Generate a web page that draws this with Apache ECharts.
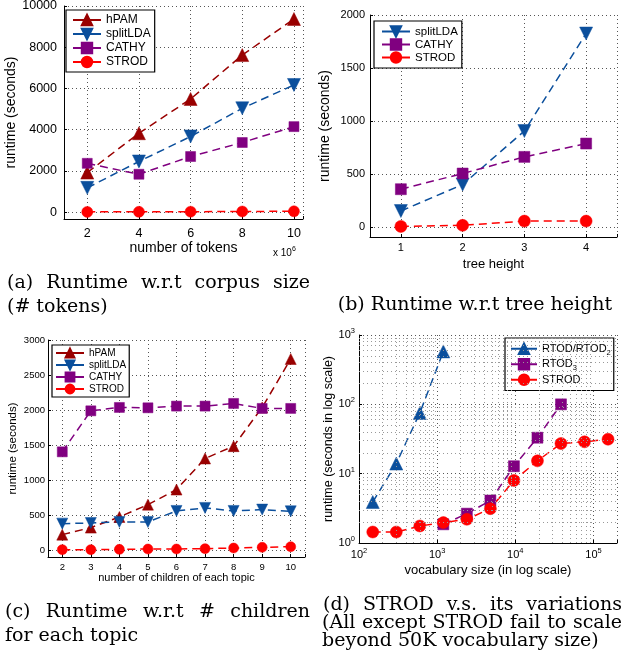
<!DOCTYPE html>
<html>
<head>
<meta charset="utf-8">
<script src="https://cdn.jsdelivr.net/npm/echarts@6/dist/echarts.min.js"></script>
<style>
html, body { margin: 0; padding: 0; background: #fff; }
#main { width: 625px; height: 657px; }
</style>
</head>
<body>
<div id="main"></div>
<script>
// (a) runtime w.r.t corpus size, x in 10^6 tokens
var tokens = [2, 4, 6, 8, 10];
var tokHPAM = [1920, 3830, 5490, 7620, 9370];
var tokSplitLDA = [1180, 2460, 3670, 5040, 6170];
var tokCATHY = [2370, 1840, 2700, 3380, 4150];
var tokSTROD = [15, 20, 25, 35, 45];

// (b) runtime w.r.t tree height
var heights = [1, 2, 3, 4];
var hSplitLDA = [150, 400, 905, 1825];
var hCATHY = [356, 504, 661, 787];
var hSTROD = [5, 15, 55, 55];

// (c) runtime w.r.t number of children
var children = [2, 3, 4, 5, 6, 7, 8, 9, 10];
var cHPAM = [224, 324, 476, 652, 867, 1310, 1486, 2038, 2729];
var cSplitLDA = [381, 390, 405, 405, 562, 605, 562, 581, 557];
var cCATHY = [1405, 1990, 2038, 2033, 2057, 2057, 2095, 2024, 2024];
var cSTROD = [10, 10, 14, 19, 19, 24, 33, 43, 52];

// (d) STROD vs its variations (log-log)
var vocabRTOD = [150, 300, 600, 1200];
var rtodTime = [3.9, 14, 75, 580];
var vocabRTOD3 = [1200, 2400, 4800, 9600, 19200, 38400];
var rtod3Time = [1.86, 2.65, 4.1, 12.8, 33, 100];
var vocabSTROD = [150, 300, 600, 1200, 2400, 4800, 9600, 19200, 38400, 76800, 153600];
var strodTime = [1.44, 1.44, 1.76, 1.97, 2.2, 3.13, 8.0, 15.3, 27.2, 28.8, 31.4];

var RED_D = '#990000', BLUE = '#0b4f9c', PURPLE = '#800080', RED = '#ff0000';
var SANS = '"Liberation Sans", Arial, sans-serif';
var SERIF = '"DejaVu Serif", serif';

var chart = echarts.init(document.getElementById('main'));

function pairs(xs, ys) {
    return xs.map(function (x, i) { return [x, ys[i]]; });
}

function line(name, gi, xs, ys, color, symbol, size, rotate) {
    return {
        name: name,
        type: 'line',
        xAxisIndex: gi,
        yAxisIndex: gi,
        data: pairs(xs, ys),
        symbol: symbol,
        symbolSize: size,
        symbolRotate: rotate || 0,
        itemStyle: { color: color, borderColor: color, borderWidth: 0.5, opacity: 1 },
        lineStyle: { color: color, width: 1.5, type: [8, 5] },
        clip: false,
        z: 3,
        animation: false
    };
}

function nameStyle(size) {
    return { color: '#000', fontFamily: SANS, fontSize: size, width: 400, overflow: 'none' };
}

function numAxis(gi, pos, min, max, step, fontSize, margin, name, nameGap, nameSize) {
    return {
        type: 'value',
        gridIndex: gi,
        position: pos,
        min: min,
        max: max,
        minInterval: step,
        maxInterval: step,
        splitNumber: Math.round((max - min) / step),
        name: name,
        nameLocation: 'middle',
        nameGap: nameGap,
        nameTextStyle: nameStyle(nameSize),
        axisLine: { show: true, onZero: false, lineStyle: { color: '#000', width: 1 } },
        axisTick: { show: true, inside: true, length: 3, lineStyle: { color: '#000' } },
        splitLine: { show: true, lineStyle: { color: '#555', type: [1, 3], width: 1 } },
        axisLabel: {
            color: '#000', fontFamily: SANS, fontSize: fontSize, margin: margin,
            formatter: function (v) {
                var k = Math.round(v / step);
                return Math.abs(k * step - v) < 1e-6 ? String(v) : '';
            }
        }
    };
}

function logLabel(v) {
    var e = Math.round(Math.log10(v));
    if (Math.abs(Math.pow(10, e) - v) > 1e-6 * v) return '';
    return '10{p|' + e + '}';
}

function logAxis(gi, pos, min, max, name, nameGap, nameSize) {
    return {
        type: 'log',
        logBase: 10,
        gridIndex: gi,
        position: pos,
        min: min,
        max: max,
        name: name,
        nameLocation: 'middle',
        nameGap: nameGap,
        nameTextStyle: nameStyle(nameSize),
        axisLine: { show: true, onZero: false, lineStyle: { color: '#000', width: 1 } },
        axisTick: { show: true, inside: true, length: 3, lineStyle: { color: '#000' } },
        splitLine: { show: true, lineStyle: { color: '#555', type: [1, 3], width: 1 } },
        axisLabel: {
            color: '#000', fontFamily: SANS, fontSize: 11, margin: 4, lineHeight: 16,
            formatter: logLabel,
            rich: { p: { fontSize: 7.5, lineHeight: 8, verticalAlign: 'top', fontFamily: SANS, color: '#000' } }
        }
    };
}

// minor grid for the log-log panel (2..9 times each decade)
var minorX = [], minorY = [];
for (var e = 2; e <= 5; e++) {
    for (var k = 2; k <= 9; k++) {
        if (k * Math.pow(10, e) < 200000) minorX.push(k * Math.pow(10, e));
    }
}
for (var e2 = 0; e2 <= 2; e2++) {
    for (var k2 = 2; k2 <= 9; k2++) minorY.push(k2 * Math.pow(10, e2));
}
var minorLines = minorX.map(function (v) { return { xAxis: v }; })
    .concat(minorY.map(function (v) { return { yAxis: v }; }));

function legend(left, top, names, fmt, itemH, rowH, fontSize, pad, itemW) {
    return {
        orient: 'vertical',
        left: left,
        top: top,
        data: names,
        formatter: fmt,
        itemWidth: itemW || 28,
        itemHeight: itemH,
        itemGap: 0,
        padding: pad,
        borderColor: '#000',
        borderWidth: 1.2,
        borderRadius: 0,
        backgroundColor: '#fff',
        selectedMode: false,
        lineStyle: { type: 'solid' },
        textStyle: {
            color: '#000', fontFamily: SANS, fontSize: fontSize, lineHeight: rowH,
            rich: { s: { fontSize: 7.5, lineHeight: 8, verticalAlign: 'bottom', fontFamily: SANS, color: '#000' } }
        }
    };
}
function strip(n) { return n.split('@')[0]; }
var dNames = { 'RTOD/RTOD2@d': 'RTOD/RTOD{s|2}', 'RTOD3@d': 'RTOD{s|3}', 'STROD@d': 'STROD' };

// captions (serif, justified where LaTeX justified them)
var ctx = document.createElement('canvas').getContext('2d');
var CAP_FONT = '19px ' + SERIF;
function capText(text, x, y, align) {
    return { type: 'text', x: x, y: y, silent: true,
        style: { text: text, font: CAP_FONT, fill: '#000', align: align || 'left', verticalAlign: 'middle' } };
}
function justified(words, x0, x1, y) {
    ctx.font = CAP_FONT;
    var ws = words.map(function (w) { return ctx.measureText(w).width; });
    var total = ws.reduce(function (a, b) { return a + b; }, 0);
    var gap = (x1 - x0 - total) / (words.length - 1);
    var out = [], cx = x0;
    words.forEach(function (w, i) {
        out.push(capText(w, cx, y));
        cx += ws[i] + gap;
    });
    return out;
}
var captions = []
    .concat(justified(['(a)', 'Runtime', 'w.r.t', 'corpus', 'size'], 7, 310, 283))
    .concat([capText('(# tokens)', 7, 307)])
    .concat([capText('(b) Runtime w.r.t tree height', 475, 305, 'center')])
    .concat(justified(['(c)', 'Runtime', 'w.r.t', '#', 'children'], 5, 310, 612))
    .concat([capText('for each topic', 5, 636)])
    .concat(justified(['(d)', 'STROD', 'v.s.', 'its', 'variations'], 323, 622, 605))
    .concat(justified(['(All', 'except', 'STROD', 'fail', 'to', 'scale'], 322, 622, 623))
    .concat([capText('beyond 50K vocabulary size)', 322, 641)]);

captions.push({
    type: 'text', x: 273, y: 246, silent: true,
    style: {
        text: 'x 10{p|6}', fill: '#000', fontFamily: SANS, fontSize: 10, lineHeight: 14,
        rich: { p: { fontSize: 7, lineHeight: 7, verticalAlign: 'top', fontFamily: SANS, fill: '#000' } }
    }
});

var option = {
    backgroundColor: '#fff',
    animation: false,
    grid: [
        { left: 64, top: 6, width: 239, height: 213, outerBoundsMode: 'none' },
        { left: 370, top: 15, width: 247, height: 222, outerBoundsMode: 'none' },
        { left: 48, top: 340, width: 257, height: 217, outerBoundsMode: 'none' },
        { left: 359, top: 335, width: 258, height: 208, outerBoundsMode: 'none' }
    ],
    xAxis: [
        numAxis(0, 'bottom', 1.1, 10.35, 2, 12.5, 8, 'number of tokens', 22, 14),
        numAxis(1, 'bottom', 0.5, 4.5, 1, 11, 5, 'tree height', 21, 13),
        numAxis(2, 'bottom', 1.5, 10.5, 1, 9.5, 5, 'number of children of each topic', 15, 11),
        logAxis(3, 'bottom', 100, 200000, 'vocabulary size (in log scale)', 19, 13)
    ],
    yAxis: [
        numAxis(0, 'left', -330, 10000, 2000, 12.5, 7, 'runtime (seconds)', 42, 14),
        numAxis(1, 'left', -95, 2000, 500, 11, 5, 'runtime (seconds)', 38, 14),
        numAxis(2, 'left', -95, 3000, 500, 9.5, 3, 'runtime (seconds)', 29, 11.5),
        logAxis(3, 'left', 1, 1000, 'runtime (seconds in log scale)', 22, 12.5)
    ],
    legend: [
        legend(66, 10, ['hPAM@a', 'splitLDA@a', 'CATHY@a', 'STROD@a'], strip, 13, 14, 12, [3, 4, 3, 6]),
        legend(374, 21, ['splitLDA@b', 'CATHY@b', 'STROD@b'], strip, 13, 13, 11.5, [4, 4, 4, 7]),
        legend(52, 345, ['hPAM@c', 'splitLDA@c', 'CATHY@c', 'STROD@c'], strip, 11, 12, 10, [2, 3, 2, 3]),
        legend(505, 338, ['RTOD/RTOD2@d', 'RTOD3@d', 'STROD@d'], function (n) { return dNames[n]; }, 13, 15.5, 11, [3, 3, 3, 5], 26)
    ],
    graphic: captions,
    series: [
        line('hPAM@a', 0, tokens, tokHPAM, RED_D, 'triangle', 13),
        line('splitLDA@a', 0, tokens, tokSplitLDA, BLUE, 'triangle', 13, 180),
        line('CATHY@a', 0, tokens, tokCATHY, PURPLE, 'rect', 10),
        line('STROD@a', 0, tokens, tokSTROD, RED, 'circle', 11),

        line('splitLDA@b', 1, heights, hSplitLDA, BLUE, 'triangle', 13, 180),
        line('CATHY@b', 1, heights, hCATHY, PURPLE, 'rect', 11),
        line('STROD@b', 1, heights, hSTROD, RED, 'circle', 12),

        line('hPAM@c', 2, children, cHPAM, RED_D, 'triangle', 11),
        line('splitLDA@c', 2, children, cSplitLDA, BLUE, 'triangle', 11, 180),
        line('CATHY@c', 2, children, cCATHY, PURPLE, 'rect', 10),
        line('STROD@c', 2, children, cSTROD, RED, 'circle', 10),

        {
            name: 'minor-grid', type: 'line', xAxisIndex: 3, yAxisIndex: 3, data: [], z: 1,
            markLine: {
                silent: true, symbol: 'none', label: { show: false }, animation: false,
                lineStyle: { color: '#999', type: [1, 3], width: 1 },
                data: minorLines
            }
        },
        line('RTOD/RTOD2@d', 3, vocabRTOD, rtodTime, BLUE, 'triangle', 13),
        line('RTOD3@d', 3, vocabRTOD3, rtod3Time, PURPLE, 'rect', 11),
        line('STROD@d', 3, vocabSTROD, strodTime, RED, 'circle', 12)
    ]
};
chart.setOption(option);
</script>
</body>
</html>
